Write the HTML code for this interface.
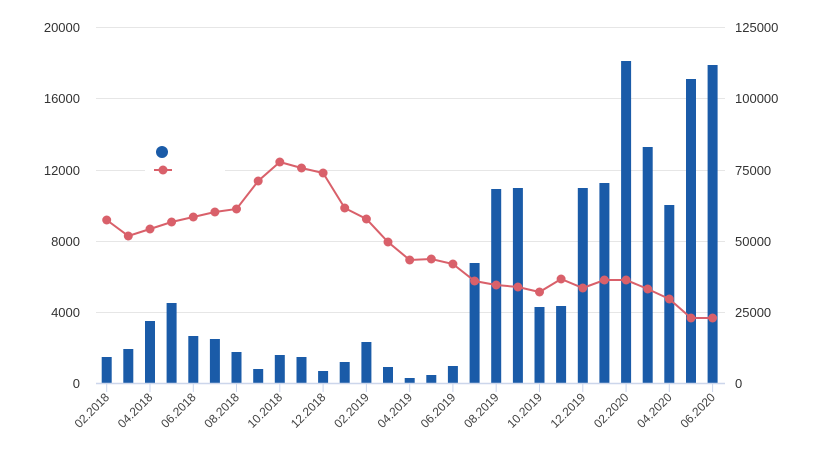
<!DOCTYPE html>
<html><head><meta charset="utf-8"><style>
html,body{margin:0;padding:0;background:#fff;}
svg{display:block;font-family:"Liberation Sans",sans-serif;}
</style></head><body>
<svg width="832" height="476" viewBox="0 0 832 476" xmlns="http://www.w3.org/2000/svg">
<g stroke="#e6e6e6" stroke-width="1">
<line x1="96" y1="27.5" x2="725" y2="27.5"/>
<line x1="96" y1="98.5" x2="725" y2="98.5"/>
<line x1="96" y1="170.5" x2="725" y2="170.5"/>
<line x1="96" y1="241.5" x2="725" y2="241.5"/>
<line x1="96" y1="312.5" x2="725" y2="312.5"/>
</g>
<g font-size="13" fill="#333" text-anchor="end">
<text x="80" y="32">20000</text><text x="80" y="103">16000</text><text x="80" y="175">12000</text>
<text x="80" y="246">8000</text><text x="80" y="317">4000</text><text x="80" y="388">0</text>
</g>
<g font-size="13" fill="#333" text-anchor="start">
<text x="735" y="32">125000</text><text x="735" y="103">100000</text><text x="735" y="175">75000</text>
<text x="735" y="246">50000</text><text x="735" y="317">25000</text><text x="735" y="388">0</text>
</g>
<g fill="#1a5ba8">
<rect x="101.7" y="357" width="10" height="26"/>
<rect x="123.3" y="349" width="10" height="34"/>
<rect x="145" y="321" width="10" height="62"/>
<rect x="166.6" y="303" width="10" height="80"/>
<rect x="188.3" y="336" width="10" height="47"/>
<rect x="209.9" y="339" width="10" height="44"/>
<rect x="231.5" y="352" width="10" height="31"/>
<rect x="253.2" y="369" width="10" height="14"/>
<rect x="274.8" y="355" width="10" height="28"/>
<rect x="296.5" y="357" width="10" height="26"/>
<rect x="318.1" y="371" width="10" height="12"/>
<rect x="339.7" y="362" width="10" height="21"/>
<rect x="361.4" y="342" width="10" height="41"/>
<rect x="383" y="367" width="10" height="16"/>
<rect x="404.7" y="378" width="10" height="5"/>
<rect x="426.3" y="375" width="10" height="8"/>
<rect x="447.9" y="366" width="10" height="17"/>
<rect x="469.6" y="263" width="10" height="120"/>
<rect x="491.2" y="189" width="10" height="194"/>
<rect x="512.9" y="188" width="10" height="195"/>
<rect x="534.5" y="307" width="10" height="76"/>
<rect x="556.1" y="306" width="10" height="77"/>
<rect x="577.8" y="188" width="10" height="195"/>
<rect x="599.4" y="183" width="10" height="200"/>
<rect x="621.1" y="61" width="10" height="322"/>
<rect x="642.7" y="147" width="10" height="236"/>
<rect x="664.3" y="205" width="10" height="178"/>
<rect x="686" y="79" width="10" height="304"/>
<rect x="707.6" y="65" width="10" height="318"/>
</g>
<line x1="96" y1="383.5" x2="725" y2="383.5" stroke="#ccd6eb" stroke-width="1.5"/>
<g stroke="#ccd6eb"><line x1="106.7" y1="384" x2="106.7" y2="392"/><line x1="150" y1="384" x2="150" y2="392"/><line x1="193.3" y1="384" x2="193.3" y2="392"/><line x1="236.5" y1="384" x2="236.5" y2="392"/><line x1="279.8" y1="384" x2="279.8" y2="392"/><line x1="323.1" y1="384" x2="323.1" y2="392"/><line x1="366.4" y1="384" x2="366.4" y2="392"/><line x1="409.7" y1="384" x2="409.7" y2="392"/><line x1="452.9" y1="384" x2="452.9" y2="392"/><line x1="496.2" y1="384" x2="496.2" y2="392"/><line x1="539.5" y1="384" x2="539.5" y2="392"/><line x1="582.8" y1="384" x2="582.8" y2="392"/><line x1="626.1" y1="384" x2="626.1" y2="392"/><line x1="669.3" y1="384" x2="669.3" y2="392"/><line x1="712.6" y1="384" x2="712.6" y2="392"/></g>
<polyline fill="none" stroke="#d9606a" stroke-width="2" points="106.7,220 128.3,236 150,229 171.6,222 193.3,217 214.9,212 236.5,209 258.2,181 279.8,162 301.5,168 323.1,173 344.7,208 366.4,219 388,242 409.7,260 431.3,259 452.9,264 474.6,281 496.2,285 517.9,287 539.5,292 561.1,279 582.8,288 604.4,280 626.1,280 647.7,289 669.3,299 691,318 712.6,318"/>
<g fill="#d9606a">
<circle cx="106.7" cy="220" r="4.5"/><circle cx="128.3" cy="236" r="4.5"/><circle cx="150" cy="229" r="4.5"/><circle cx="171.6" cy="222" r="4.5"/><circle cx="193.3" cy="217" r="4.5"/><circle cx="214.9" cy="212" r="4.5"/><circle cx="236.5" cy="209" r="4.5"/><circle cx="258.2" cy="181" r="4.5"/><circle cx="279.8" cy="162" r="4.5"/><circle cx="301.5" cy="168" r="4.5"/><circle cx="323.1" cy="173" r="4.5"/><circle cx="344.7" cy="208" r="4.5"/><circle cx="366.4" cy="219" r="4.5"/><circle cx="388" cy="242" r="4.5"/><circle cx="409.7" cy="260" r="4.5"/><circle cx="431.3" cy="259" r="4.5"/><circle cx="452.9" cy="264" r="4.5"/><circle cx="474.6" cy="281" r="4.5"/><circle cx="496.2" cy="285" r="4.5"/><circle cx="517.9" cy="287" r="4.5"/><circle cx="539.5" cy="292" r="4.5"/><circle cx="561.1" cy="279" r="4.5"/><circle cx="582.8" cy="288" r="4.5"/><circle cx="604.4" cy="280" r="4.5"/><circle cx="626.1" cy="280" r="4.5"/><circle cx="647.7" cy="289" r="4.5"/><circle cx="669.3" cy="299" r="4.5"/><circle cx="691" cy="318" r="4.5"/><circle cx="712.6" cy="318" r="4.5"/>
</g>
<rect x="145" y="140" width="80" height="40" fill="#fff"/>
<circle cx="162" cy="152" r="6" fill="#1a5ba8"/>
<line x1="154" y1="170" x2="172" y2="170" stroke="#d9606a" stroke-width="2"/>
<circle cx="163" cy="170" r="4.5" fill="#d9606a"/>
<g font-size="12" fill="#444" text-anchor="end">
<text transform="translate(110,398) rotate(-45)">02.2018</text>
<text transform="translate(153.3,398) rotate(-45)">04.2018</text>
<text transform="translate(196.6,398) rotate(-45)">06.2018</text>
<text transform="translate(239.8,398) rotate(-45)">08.2018</text>
<text transform="translate(283.1,398) rotate(-45)">10.2018</text>
<text transform="translate(326.4,398) rotate(-45)">12.2018</text>
<text transform="translate(369.7,398) rotate(-45)">02.2019</text>
<text transform="translate(413,398) rotate(-45)">04.2019</text>
<text transform="translate(456.2,398) rotate(-45)">06.2019</text>
<text transform="translate(499.5,398) rotate(-45)">08.2019</text>
<text transform="translate(542.8,398) rotate(-45)">10.2019</text>
<text transform="translate(586.1,398) rotate(-45)">12.2019</text>
<text transform="translate(629.4,398) rotate(-45)">02.2020</text>
<text transform="translate(672.6,398) rotate(-45)">04.2020</text>
<text transform="translate(715.9,398) rotate(-45)">06.2020</text>
</g>
</svg>
</body></html>
